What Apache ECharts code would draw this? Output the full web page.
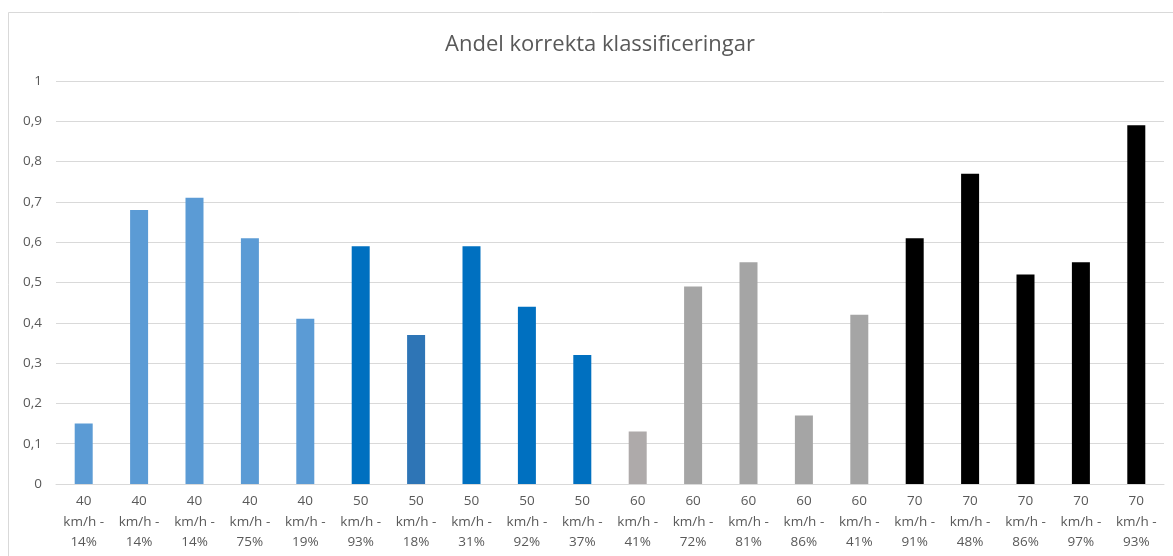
<!DOCTYPE html>
<html>
<head>
<meta charset="utf-8">
<script src="https://cdn.jsdelivr.net/npm/echarts@6/dist/echarts.min.js"></script>
<style>
  html, body { margin: 0; padding: 0; background: #fff; }
  #frame { width: 1173px; height: 556px; }
</style>
</head>
<body>
<div id="frame"></div>
<script>
const speeds = ['40', '40', '40', '40', '40', '50', '50', '50', '50', '50',
  '60', '60', '60', '60', '60', '70', '70', '70', '70', '70'];
const shares = ['14%', '14%', '14%', '75%', '19%', '93%', '18%', '31%', '92%', '37%',
  '41%', '72%', '81%', '86%', '41%', '91%', '48%', '86%', '97%', '93%'];
const values = [0.15, 0.68, 0.71, 0.61, 0.41, 0.59, 0.37, 0.59, 0.44, 0.32,
  0.13, 0.49, 0.55, 0.17, 0.42, 0.61, 0.77, 0.52, 0.55, 0.89];
const barColors = ['#5B9BD5', '#5B9BD5', '#5B9BD5', '#5B9BD5', '#5B9BD5',
  '#0070C0', '#2E75B6', '#0070C0', '#0070C0', '#0070C0',
  '#AEAAAA', '#A5A5A5', '#A5A5A5', '#A5A5A5', '#A5A5A5',
  '#000000', '#000000', '#000000', '#000000', '#000000'];

const categories = speeds.map((s, i) => s + '\nkm/h -\n' + shares[i]);

const chart = echarts.init(document.getElementById('frame'), null, { renderer: 'canvas' });
chart.setOption({
  animation: false,
  backgroundColor: '#fff',
  textStyle: { fontFamily: 'Open Sans' },
  title: {
    text: 'Andel korrekta klassificeringar',
    left: 595,
    textAlign: 'center',
    top: 29,
    textStyle: { fontSize: 22, fontWeight: 'normal', color: '#595959', fontFamily: 'Open Sans' }
  },
  graphic: [{
    type: 'rect',
    shape: { x: 8.5, y: 12.5, width: 1300, height: 700 },
    style: { fill: 'none', stroke: '#D9D9D9', lineWidth: 1 },
    silent: true
  }],
  grid: { left: 56, right: 9, top: 81, bottom: 72, containLabel: false },
  xAxis: {
    type: 'category',
    data: categories,
    axisLine: { lineStyle: { color: '#D9D9D9' } },
    axisTick: { show: false },
    axisLabel: { color: '#595959', fontSize: 13.5, lineHeight: 20.5, margin: 7, interval: 0 }
  },
  yAxis: {
    type: 'value',
    min: 0,
    max: 1,
    interval: 0.1,
    axisLine: { show: false },
    axisTick: { show: false },
    splitLine: { lineStyle: { color: '#D9D9D9' } },
    axisLabel: {
      color: '#595959', fontSize: 13.5, margin: 14,
      formatter: v => String(Math.round(v * 10) / 10).replace('.', ',')
    }
  },
  series: [{
    type: 'bar',
    data: values.map((v, i) => ({ value: v, itemStyle: { color: barColors[i] } })),
    barWidth: 18
  }]
});
</script>
</body>
</html>
